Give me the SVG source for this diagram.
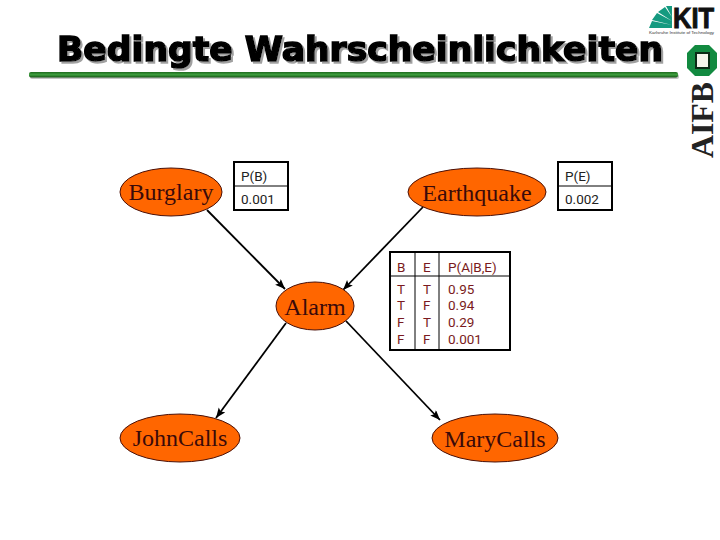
<svg xmlns="http://www.w3.org/2000/svg" width="720" height="540" viewBox="0 0 720 540">
<style>
.n{fill:#ff6600;stroke:#4a1008;stroke-width:1}
.nt{font-family:"Liberation Serif",serif;font-size:24px;fill:#3a0a0a;text-anchor:middle}
.c{stroke:#000;stroke-width:1.8;fill:none;marker-end:url(#a)}
.b{fill:#fff;stroke:#000;stroke-width:2}
.l{stroke:#000;stroke-width:1;fill:none}
.t{font-family:Roboto,sans-serif;font-size:13.500px;fill:#222}
.r{font-family:Roboto,sans-serif;font-size:13.500px;fill:#7a1a20}
.h{font-family:"DejaVu Sans",sans-serif;font-weight:bold;font-size:33px;stroke-width:1.500;fill:#000;stroke:#000;filter:url(#s)}
</style>
<defs>
<marker id="a" markerUnits="userSpaceOnUse" markerWidth="12" markerHeight="10" refX="10" refY="4" orient="auto"><path d="M0 0L10 4L0 8L2 4Z" fill="#000"/></marker>
<linearGradient id="g" x1="0" y1="0" x2="0" y2="1"><stop offset="0" stop-color="#1f6a1f"/><stop offset="0.5" stop-color="#3fa03f"/><stop offset="1" stop-color="#145214"/></linearGradient>
<filter id="s" x="-2%" y="-10%" width="104%" height="130%"><feDropShadow dx="2" dy="2" stdDeviation="0.400" flood-color="#a0a0a0"/></filter>
</defs>
<rect width="720" height="540" fill="#fff"/>
<g id="title">
<rect x="30" y="74" width="649" height="5" rx="2" fill="#c4c4c4"/>
<rect x="29" y="72" width="649" height="5.500" rx="2" fill="url(#g)"/>
<text class="h" x="57" y="61" textLength="606" lengthAdjust="spacingAndGlyphs">Bedingte Wahrscheinlichkeiten</text>
</g>
<g id="kit-logo">
<path d="M649 28L672 28L672 25L652 21ZM652 20L672 25L672 21L657 13ZM658 12L672 21L672 17L665 7ZM666 6L672 17L672 6Z" fill="#159a80"/>
<text x="673" y="28" font-family="Liberation Sans,sans-serif" font-weight="bold" font-size="29" textLength="41" lengthAdjust="spacingAndGlyphs" fill="#111" stroke="#111" stroke-width="1">KIT</text>
<text x="649" y="34" font-family="Liberation Sans,sans-serif" font-size="4" textLength="65" lengthAdjust="spacingAndGlyphs" fill="#333">Karlsruhe Institute of Technology</text>
</g>
<g id="aifb-logo">
<path d="M695 45h14l8 8v15l-8 8h-14l-8-8v-15Z" fill="#128a40"/>
<rect x="696" y="53" width="13" height="15" fill="#f4f4ea" stroke="#0a2a14" stroke-width="2"/>
<text transform="translate(713,158) rotate(-90)" font-family="Liberation Serif,serif" font-weight="bold" font-size="32" textLength="76" lengthAdjust="spacingAndGlyphs" fill="#222">AIFB</text>
</g>
<g id="connectors">
<path class="c" d="M207 210L285 289"/>
<path class="c" d="M423 207L343 290"/>
<path class="c" d="M286 323L216 418"/>
<path class="c" d="M346 321L440 420"/>
</g>
<g id="burglary"><ellipse class="n" cx="171" cy="192" rx="51" ry="24"/><text class="nt" x="171" y="200">Burglary</text></g>
<g id="earthquake"><ellipse class="n" cx="477" cy="192" rx="69" ry="24"/><text class="nt" x="477" y="201">Earthquake</text></g>
<g id="alarm"><ellipse class="n" cx="315" cy="306" rx="39" ry="24"/><text class="nt" x="315" y="315">Alarm</text></g>
<g id="johncalls"><ellipse class="n" cx="180" cy="438" rx="60" ry="24"/><text class="nt" x="180" y="446">JohnCalls</text></g>
<g id="marycalls"><ellipse class="n" cx="495" cy="438" rx="63" ry="24"/><text class="nt" x="495" y="447">MaryCalls</text></g>
<g id="cpt-b"><rect class="b" x="234" y="162" width="54" height="48"/><path class="l" d="M234 186H288"/><text class="t" x="241" y="181">P(B)</text><text class="t" x="241" y="204">0.001</text></g>
<g id="cpt-e"><rect class="b" x="558" y="162" width="54" height="48"/><path class="l" d="M558 186H612"/><text class="t" x="565" y="181">P(E)</text><text class="t" x="565" y="204">0.002</text></g>
<g id="cpt-a"><rect class="b" x="390" y="252" width="120" height="98"/><path class="l" d="M390 276H510M415 252V350M439 252V350"/>
<text class="r" x="397" y="272">B</text><text class="r" x="423" y="272">E</text><text class="r" x="448" y="272">P(A|B,E)</text>
<text class="r" x="397" y="294">T</text><text class="r" x="423" y="294">T</text><text class="r" x="448" y="294">0.95</text>
<text class="r" x="397" y="310">T</text><text class="r" x="423" y="310">F</text><text class="r" x="448" y="310">0.94</text>
<text class="r" x="397" y="327">F</text><text class="r" x="423" y="327">T</text><text class="r" x="448" y="327">0.29</text>
<text class="r" x="397" y="344">F</text><text class="r" x="423" y="344">F</text><text class="r" x="448" y="344">0.001</text></g>
</svg>
